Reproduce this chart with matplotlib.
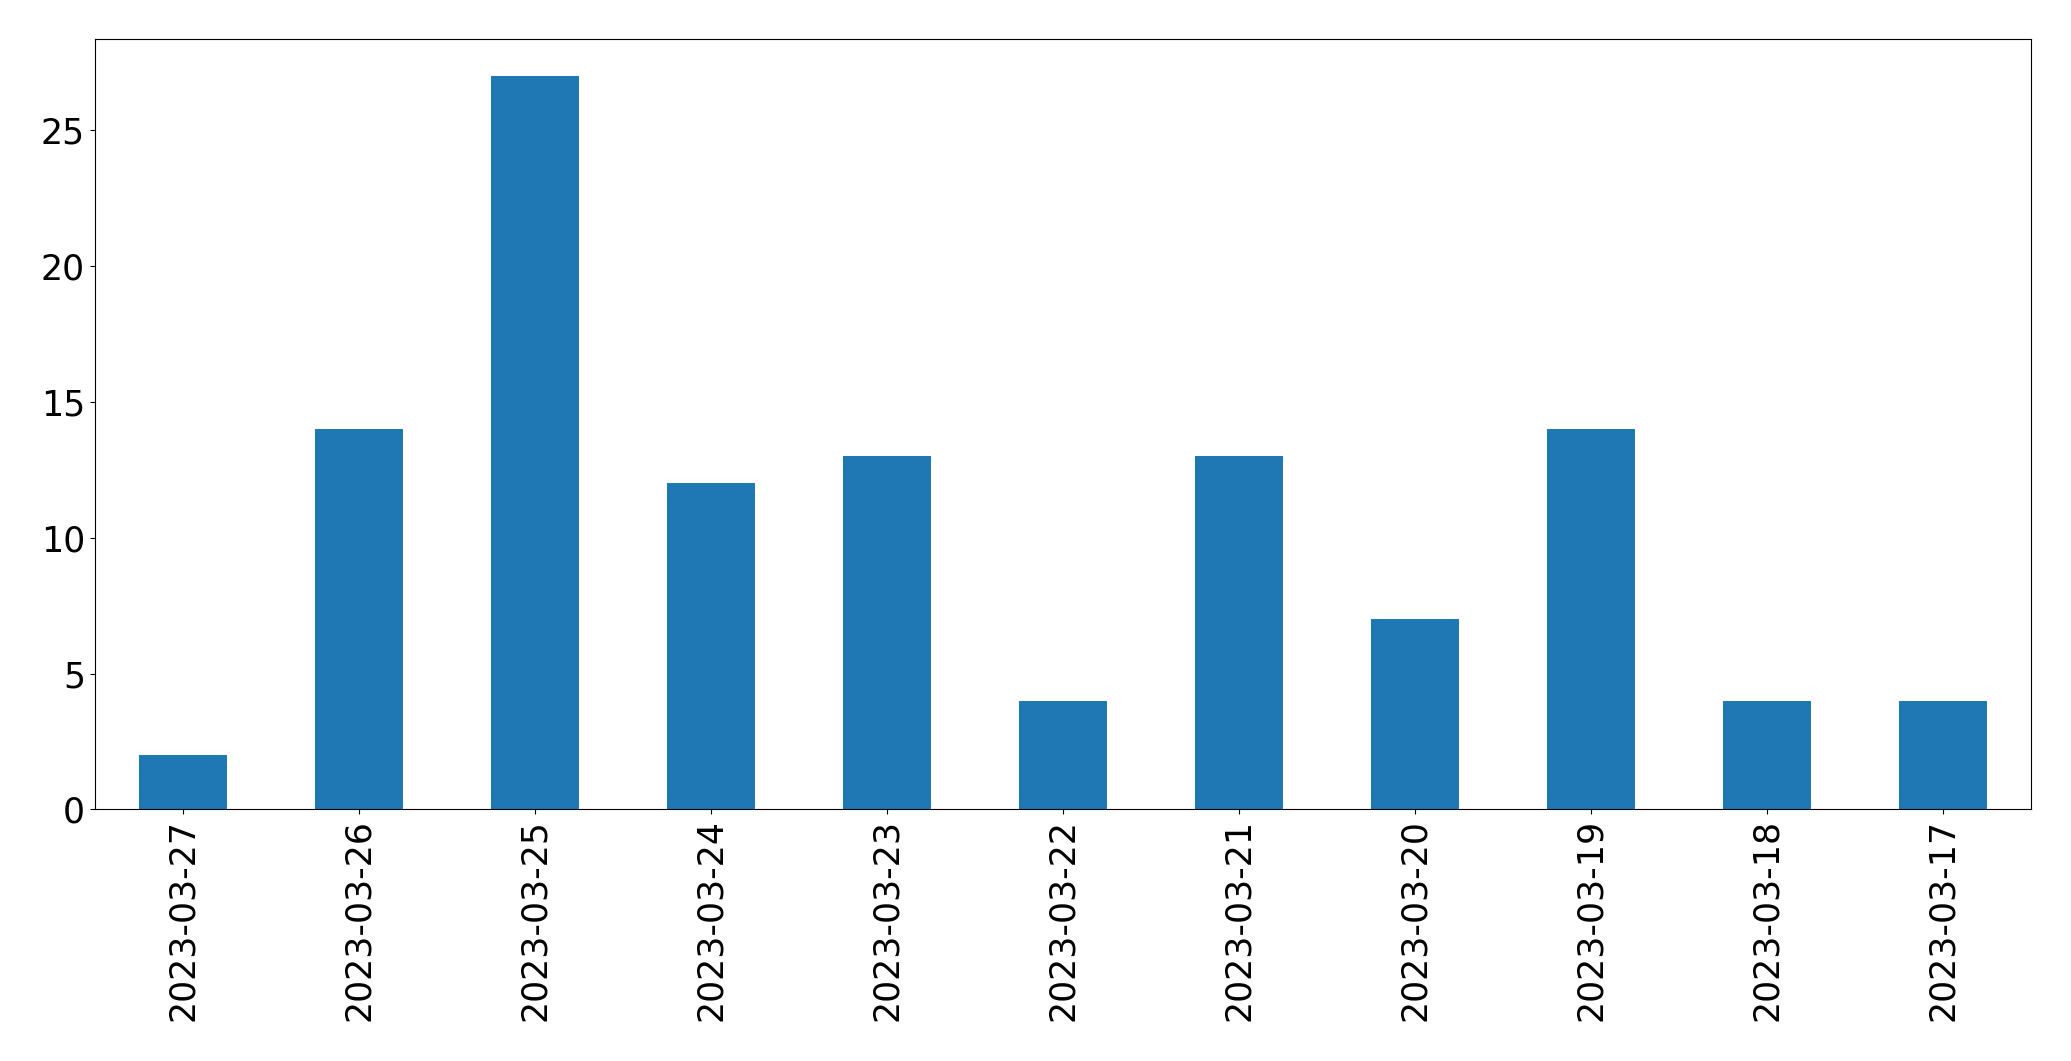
import matplotlib
matplotlib.use('Agg')
import pandas as pd
from matplotlib import pyplot as plt

dates = ['2023-03-27', '2023-03-26', '2023-03-25', '2023-03-24', '2023-03-23',
         '2023-03-22', '2023-03-21', '2023-03-20', '2023-03-19', '2023-03-18',
         '2023-03-17']
counts = [2, 14, 27, 12, 13, 4, 13, 7, 14, 4, 4]

counts_series = pd.Series(counts, index=dates)

fig = plt.figure(figsize=(20.71, 10.61), dpi=100)
ax = fig.add_axes([0.0457, 0.2372, 0.9351, 0.7258])
counts_series.plot(kind='bar', ax=ax, color='#1f77b4', fontsize=25)

fig.savefig('out.png', dpi=100)
